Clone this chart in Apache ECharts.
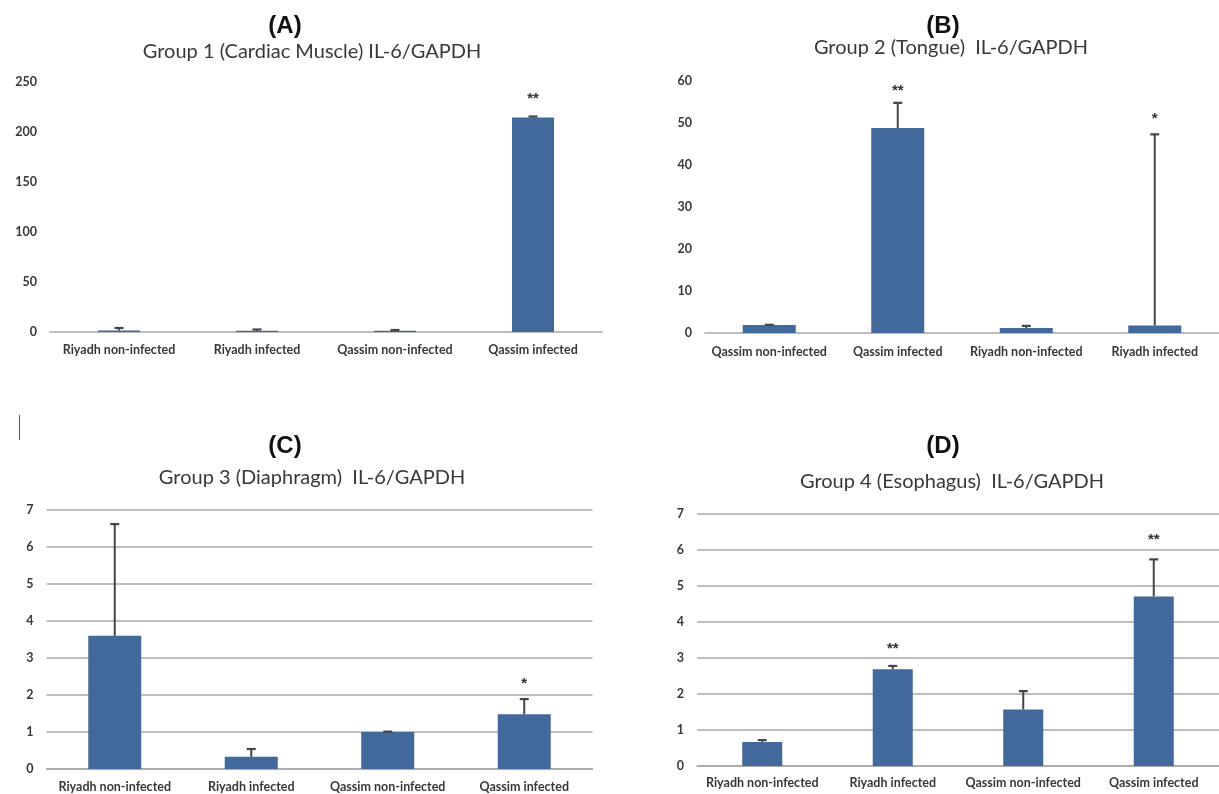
<!DOCTYPE html>
<html>
<head>
<meta charset="utf-8">
<script src="https://cdn.jsdelivr.net/npm/echarts@6/dist/echarts.min.js"></script>
<style>
html,body{margin:0;padding:0;background:#fff;}
#main{width:1219px;height:794px;}
</style>
</head>
<body>
<div id="main"></div>
<script>
// ---- Data ----
const catsA = ['Riyadh non-infected', 'Riyadh infected', 'Qassim non-infected', 'Qassim infected'];
const valsA = [1.5, 1.3, 1.2, 214.5];
const errTopA = [4, 2.5, 2, 215.5];
const sigA = ['', '', '', '**'];
const sigPosA = [null, null, null, 233];

const catsB = ['Qassim non-infected', 'Qassim infected', 'Riyadh non-infected', 'Riyadh infected'];
const valsB = [1.9, 48.8, 1.2, 1.8];
const errTopB = [1.95, 54.8, 1.7, 47.3];
const sigB = ['', '**', '', '*'];
const sigPosB = [null, 57.6, null, 51.1];

const catsC = ['Riyadh non-infected', 'Riyadh infected', 'Qassim non-infected', 'Qassim infected'];
const valsC = [3.6, 0.33, 1.0, 1.48];
const errTopC = [6.62, 0.54, 1.01, 1.89];
const sigC = ['', '', '', '*'];
const sigPosC = [null, null, null, 2.3];

const catsD = ['Riyadh non-infected', 'Riyadh infected', 'Qassim non-infected', 'Qassim infected'];
const valsD = [0.67, 2.69, 1.57, 4.71];
const errTopD = [0.72, 2.78, 2.08, 5.74];
const sigD = ['', '**', '', '**'];
const sigPosD = [null, 3.26, null, 6.27];

const yMaxA = 250, yIntA = 50;
const yMaxB = 60, yIntB = 10;
const yMaxC = 7, yIntC = 1;
const yMaxD = 7, yIntD = 1;

const panelLetters = ['(A)', '(B)', '(C)', '(D)'];
const panelTitles = [
  'Group 1 (Cardiac Muscle) IL-6/GAPDH',
  'Group 2 (Tongue)  IL-6/GAPDH',
  'Group 3 (Diaphragm)  IL-6/GAPDH',
  'Group 4 (Esophagus)  IL-6/GAPDH'
];

// ---- Styles ----
const BAR = '#41699c';
const ERR = '#454545';
const GRID = '#a8a8a8';
const TXT = '#383838';
const FONT = 'Lato';

const chart = echarts.init(document.getElementById('main'), null, {renderer: 'canvas'});

const grids = [
  {left: 50, top: 82, width: 552, height: 250},
  {left: 705, top: 81, width: 522, height: 252},
  {left: 46.5, top: 510, width: 546, height: 259},
  {left: 697, top: 514, width: 522, height: 252}
];
const cats = [catsA, catsB, catsC, catsD];
const vals = [valsA, valsB, valsC, valsD];
const errs = [errTopA, errTopB, errTopC, errTopD];
const sigs = [sigA, sigB, sigC, sigD];
const sigPos = [sigPosA, sigPosB, sigPosC, sigPosD];
const yMax = [yMaxA, yMaxB, yMaxC, yMaxD];
const yInt = [yIntA, yIntB, yIntC, yIntD];
const splits = [false, false, true, true];
const barW = [42, 53, 53, 40];
const xMargin = [11, 12, 11, 10];

const xAxes = [], yAxes = [], series = [];
for (let i = 0; i < 4; i++) {
  xAxes.push({
    type: 'category', gridIndex: i, data: cats[i],
    axisLine: {show: true, lineStyle: {color: GRID, width: 1.5}},
    axisTick: {show: false},
    axisLabel: {color: TXT, fontFamily: FONT, fontWeight: 'bold', fontSize: 12.5, margin: xMargin[i], interval: 0}
  });
  yAxes.push({
    type: 'value', gridIndex: i, min: 0, max: yMax[i], interval: yInt[i],
    axisLine: {show: false}, axisTick: {show: false},
    splitLine: {show: splits[i], lineStyle: {color: GRID, width: 1.5}},
    axisLabel: {color: TXT, fontFamily: FONT, fontWeight: 'bold', fontSize: 12.5, margin: 13}
  });
  series.push({
    type: 'bar', xAxisIndex: i, yAxisIndex: i, data: vals[i],
    barWidth: barW[i], itemStyle: {color: BAR}, silent: true, animation: false, z: 2
  });
  series.push({
    type: 'custom', xAxisIndex: i, yAxisIndex: i, animation: false, silent: true, z: 3,
    data: vals[i].map((v, k) => [k, v, errs[i][k]]),
    renderItem: function (params, api) {
      const base = api.coord([api.value(0), api.value(1)]);
      const top = api.coord([api.value(0), api.value(2)]);
      const half = 4.5;
      return {
        type: 'group',
        children: [
          {type: 'line', shape: {x1: base[0], y1: base[1], x2: top[0], y2: top[1]},
           style: {stroke: ERR, lineWidth: 2}},
          {type: 'line', shape: {x1: top[0] - half, y1: top[1], x2: top[0] + half, y2: top[1]},
           style: {stroke: ERR, lineWidth: 2.2}}
        ]
      };
    }
  });
  series.push({
    type: 'custom', xAxisIndex: i, yAxisIndex: i, animation: false, silent: true, z: 4,
    data: sigPos[i].map((p, k) => [k, p === null ? 0 : p, sigs[i][k]]).filter(d => d[2] !== ''),
    renderItem: function (params, api) {
      const pt = api.coord([api.value(0), api.value(1)]);
      return {
        type: 'text',
        style: {
          x: pt[0], y: pt[1], text: api.value(2), fill: '#333',
          font: 'bold 15px "Liberation Sans"', align: 'center', verticalAlign: 'middle'
        }
      };
    }
  });
}

const letterPos = [[285, 26], [943, 26], [285, 446], [943, 446]];
const titlePos = [[312, 52], [951, 48], [312, 478], [952, 482]];
const graphics = [];
for (let i = 0; i < 4; i++) {
  graphics.push({
    type: 'text', x: letterPos[i][0], y: letterPos[i][1],
    style: {text: panelLetters[i], fill: '#111', font: 'bold 24px "Liberation Sans"', align: 'center', verticalAlign: 'middle'}
  });
  graphics.push({
    type: 'text', x: titlePos[i][0], y: titlePos[i][1],
    style: {text: panelTitles[i], fill: TXT, font: '20px ' + FONT, align: 'center', verticalAlign: 'middle'}
  });
}
graphics.push({type: 'line', shape: {x1: 19.5, y1: 415, x2: 19.5, y2: 440}, style: {stroke: '#555', lineWidth: 1}});

chart.setOption({
  animation: false,
  grid: grids,
  xAxis: xAxes,
  yAxis: yAxes,
  series: series,
  graphic: graphics
});
</script>
</body>
</html>
